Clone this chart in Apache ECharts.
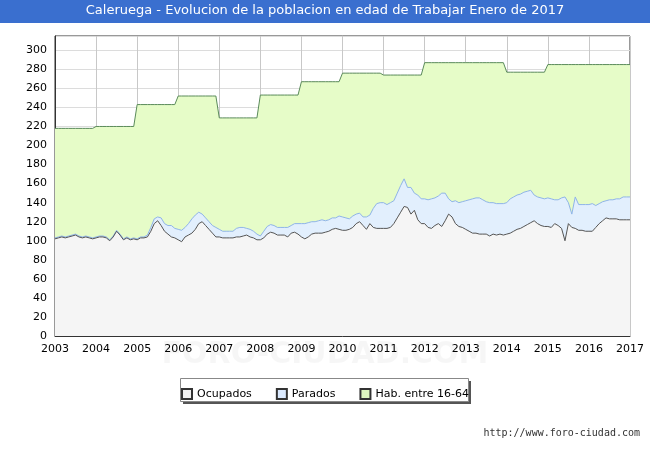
<!DOCTYPE html>
<html><head><meta charset="utf-8">
<script src="https://cdn.jsdelivr.net/npm/echarts@6/dist/echarts.min.js"></script>
<style>html,body{margin:0;padding:0;background:#fff}#c{width:650px;height:450px}</style>
</head><body><div id="c"></div>
<script>
const years=[2003,2004,2005,2006,2007,2008,2009,2010,2011,2012,2013,2014,2015,2016,2017];
const habByYear=[218,220,243,252,229,253,267,276,274,287,287,277,285,285,285];
const ocupados=[
102,103,104,103,104,105,106,104,103,104,103,102,
103,104,104,103,100,104,110,106,101,103,101,102,
101,103,103,104,110,118,121,116,110,107,104,103,
101,99,104,106,108,112,118,120,116,112,108,104,
104,103,103,103,103,104,104,105,106,104,103,101,
101,103,107,109,108,106,106,106,104,108,109,107,
104,102,104,107,108,108,108,109,110,112,113,112,
111,111,112,114,118,120,116,112,118,114,113,113,
113,113,114,118,124,130,136,135,128,132,122,118,
118,114,113,116,118,115,121,128,125,118,115,114,
112,110,108,108,107,107,107,105,107,106,107,106,
107,108,110,112,113,115,117,119,121,118,116,115,
115,114,118,116,113,100,118,114,113,111,111,110,
110,110,114,118,121,124,123,123,123,122,122,122,
122];
const paradosTotal=[
103,104,105,104,105,106,107,105,104,105,104,103,
104,105,105,104,101,105,111,107,102,104,102,103,
102,104,104,106,114,123,125,124,118,116,116,113,
112,111,114,118,123,127,130,128,124,120,116,114,
112,110,110,110,110,113,114,114,113,112,110,107,
105,110,115,117,116,114,114,114,114,116,118,118,
118,118,119,120,120,121,122,121,122,124,124,126,
125,124,123,126,128,129,125,125,127,134,139,140,
140,138,140,142,150,158,165,156,156,150,148,144,
144,143,144,145,147,150,150,144,141,142,140,141,
142,143,144,145,145,143,141,140,140,139,139,139,
140,144,146,148,149,151,152,153,148,146,145,144,
145,144,143,143,145,146,140,128,146,138,138,138,
138,139,137,139,141,142,143,143,144,144,146,146,
146];
const cats=[],hab=[];
years.forEach((y,i)=>{const n=(y===2017)?1:12;for(let m=0;m<n;m++){cats.push(m===0?String(y):y+'-'+(m+1));hab.push(habByYear[i]);}});
const ch=echarts.init(document.getElementById('c'));
ch.setOption({
 animation:false,
 graphic:[
  {type:'rect',left:0,top:0,shape:{width:650,height:23},style:{fill:'#3a6fcf'}},
  {type:'text',left:'center',top:4,style:{text:'Caleruega - Evolucion de la poblacion en edad de Trabajar Enero de 2017',fill:'#fff',font:'13px "DejaVu Sans"'}},
  {type:'text',right:10,top:428,style:{text:'http://www.foro-ciudad.com',fill:'#333',font:'10px "DejaVu Sans Mono"'}},
  {type:'text',left:'center',top:340,style:{text:'FORO-CIUDAD.COM',fill:'rgba(0,0,0,0.035)',font:'bold 30px "DejaVu Sans"'}},
  {type:'rect',left:183,top:381,shape:{width:288,height:23},style:{fill:'#555'}},
  {type:'rect',left:180,top:378,shape:{width:288,height:23},style:{fill:'#fff',stroke:'#888'}}
 ],
 legend:{top:383,left:'center',icon:'rect',itemWidth:10,itemHeight:10,itemGap:24,textStyle:{fontSize:11,fontFamily:'DejaVu Sans',color:'#000'},
  data:['Ocupados','Parados','Hab. entre 16-64']},
 grid:{left:55,right:20,top:36,bottom:114,show:true,borderColor:'#333',borderWidth:1},
 xAxis:{type:'category',data:cats,boundaryGap:false,
  axisLine:{lineStyle:{color:'#333'}},axisTick:{show:false},
  axisLabel:{interval:11,color:'#000',fontSize:11,fontFamily:'DejaVu Sans',formatter:v=>v.length===4?v:''},
  splitLine:{show:true,interval:11,lineStyle:{color:'#c8c8c8'}}},
 yAxis:{type:'value',min:0,max:315,interval:20,
  axisLine:{show:true,lineStyle:{color:'#333'}},axisTick:{show:false},
  axisLabel:{showMaxLabel:false,color:'#000',fontSize:11,fontFamily:'DejaVu Sans'},
  splitLine:{lineStyle:{color:'#dcdcdc'}}},
 series:[
  {name:'Hab. entre 16-64',type:'line',data:hab,symbol:'none',lineStyle:{color:'#5a8a5a',width:1},itemStyle:{color:'#dff7c0',borderColor:'#333',borderWidth:1},areaStyle:{color:'#e6fcc8',opacity:1}},
  {name:'Parados',type:'line',data:paradosTotal,symbol:'none',lineStyle:{color:'#8fb4e8',width:1},itemStyle:{color:'#dbeaff',borderColor:'#333',borderWidth:1},areaStyle:{color:'#e2effd',opacity:1}},
  {name:'Ocupados',type:'line',data:ocupados,symbol:'none',lineStyle:{color:'#555',width:1},itemStyle:{color:'#f0f0f0',borderColor:'#333',borderWidth:1},areaStyle:{color:'#f5f5f5',opacity:1}}
 ]
});
</script></body></html>
